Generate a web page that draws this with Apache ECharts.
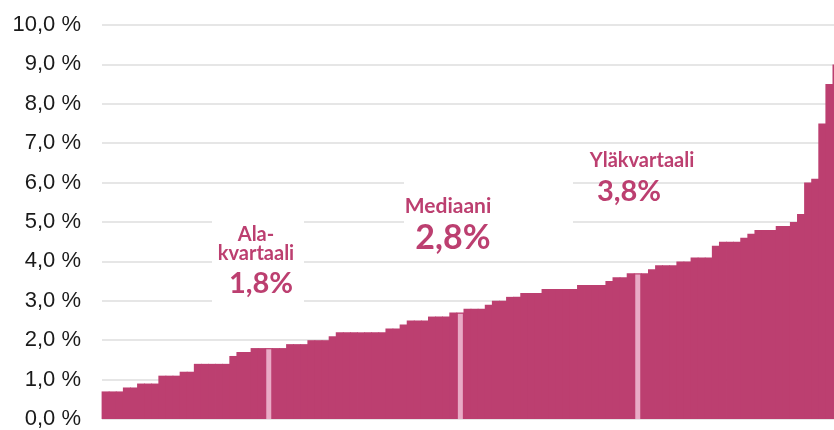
<!DOCTYPE html>
<html>
<head>
<meta charset="utf-8">
<style>
  html, body { margin: 0; padding: 0; background: #fff; overflow: hidden; }
  #main { width: 840px; height: 430px; }
</style>
<script src="https://cdn.jsdelivr.net/npm/echarts@6/dist/echarts.min.js"></script>
</head>
<body>
<div id="main"></div>
<script>
// arvot pienimmästä suurimpaan (%)
var values = [
  0.7, 0.7, 0.7, 0.8, 0.8, 0.9, 0.9, 0.9, 1.1, 1.1, 1.1, 1.2, 1.2,
  1.4, 1.4, 1.4, 1.4, 1.4, 1.6, 1.7, 1.7, 1.8, 1.8, 1.8, 1.8, 1.8,
  1.9, 1.9, 1.9, 2.0, 2.0, 2.0, 2.1, 2.2, 2.2, 2.2, 2.2, 2.2, 2.2, 2.2,
  2.3, 2.3, 2.4, 2.5, 2.5, 2.5, 2.6, 2.6, 2.6, 2.7, 2.7, 2.8, 2.8, 2.8,
  2.9, 3.0, 3.0, 3.1, 3.1, 3.2, 3.2, 3.2, 3.3, 3.3, 3.3, 3.3, 3.3,
  3.4, 3.4, 3.4, 3.4, 3.5, 3.6, 3.6, 3.7, 3.7, 3.7, 3.8, 3.9, 3.9, 3.9,
  4.0, 4.0, 4.1, 4.1, 4.1, 4.4, 4.5, 4.5, 4.5, 4.6, 4.7, 4.8, 4.8, 4.8,
  4.9, 4.9, 5.0, 5.2, 6.0, 6.1, 7.5, 8.5, 9.0
];
var categories = values.map(function (v, i) { return String(i + 1); });

// kvartiilien kohdat (pylvään indeksi)
var quartileIdx = [23, 50, 75];
var yTicks = [0, 1, 2, 3, 4, 5, 6, 7, 8, 9, 10];

var barColor = '#bc3f70';
var quartColor = '#e9abc6';

var chart = echarts.init(document.getElementById('main'));

var quartData = values.map(function (v, i) {
  return quartileIdx.indexOf(i) >= 0 ? v - 0.03 : '-';
});

// pylväät ilman saumoja: jokainen hieman leveämpi kuin kategoria
function renderBar(params, api) {
  var i = api.value(0);
  var top = api.coord([i, api.value(1)]);
  var base = api.coord([i, 0]);
  var w = api.size([1, 0])[0];
  return {
    type: 'rect',
    shape: { x: top[0] - w / 2 - 0.4, y: top[1], width: w + 0.8, height: base[1] - top[1] },
    style: { fill: barColor }
  };
}

var txt = function (text, x, y, size) {
  return {
    type: 'text', x: x, y: y, z: 10,
    style: {
      text: text, fill: barColor,
      font: 'bold ' + size + 'px Lato, "Open Sans", sans-serif',
      align: 'center', verticalAlign: 'middle'
    }
  };
};
var box = function (x, y, w, h) {
  return { type: 'rect', z: 5, shape: { x: x, y: y, width: w, height: h }, style: { fill: '#fff' } };
};

var option = {
  animation: false,
  grid: { left: 102, right: 0, top: 25, bottom: 9 },
  xAxis: [
    { type: 'category', data: categories, show: false },
    { type: 'category', data: categories, show: false }
  ],
  yAxis: {
    type: 'value', min: yTicks[0], max: yTicks[yTicks.length - 1], interval: 1,
    axisLine: { show: false }, axisTick: { show: false },
    axisLabel: {
      margin: 21, color: '#1a1a1a', fontSize: 22,
      fontFamily: '"Liberation Sans", Arial, sans-serif',
      formatter: function (v) { return v.toFixed(1).replace('.', ',') + ' %'; }
    },
    splitLine: { lineStyle: { color: '#dedede', width: 1.5 } }
  },
  series: [
    {
      type: 'custom', renderItem: renderBar,
      data: values.map(function (v, i) { return [i, v]; }),
      encode: { x: 0, y: 1 }
    },
    {
      type: 'bar', data: quartData, xAxisIndex: 1, barWidth: 5, z: 3,
      itemStyle: { color: quartColor }
    }
  ],
  graphic: [
    box(212, 192, 92, 118),
    box(404, 172, 169, 86),
    txt('Ala-', 256, 235, 20),
    txt('kvartaali', 256, 254, 20),
    txt('1,8%', 261, 284, 29),
    txt('Mediaani', 448, 206, 21),
    txt('2,8%', 453, 238, 34),
    txt('Yläkvartaali', 642, 161, 20),
    txt('3,8%', 629, 192, 29)
  ]
};

chart.setOption(option);
</script>
</body>
</html>
